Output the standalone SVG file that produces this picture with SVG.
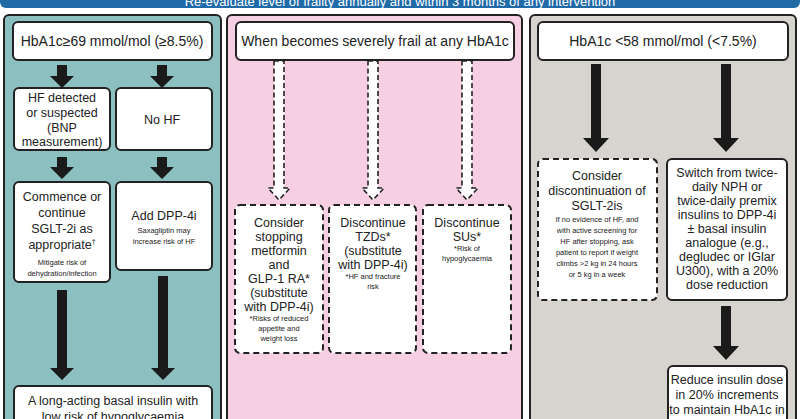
<svg xmlns="http://www.w3.org/2000/svg" width="800" height="419" viewBox="0 0 800 419">
<style>
text{font-family:"Liberation Sans",Arial,sans-serif;fill:#222;text-anchor:middle}
.m{font-size:12.5px}.h{font-size:14px}.s{font-size:7.5px}
.box{fill:#fff;stroke:#222;stroke-width:2}
.dbox{fill:#fff;stroke:#222;stroke-width:2;stroke-dasharray:6,4}
.arr{fill:#1a1a1a}
.darr{fill:#fff;stroke:#222;stroke-width:1.6;stroke-dasharray:5,3}
</style>
<rect x="0" y="-20" width="800" height="28" rx="6" fill="#1f6aa7"/>
<text x="400" y="6" style="font-size:13px;fill:#fff">Re-evaluate level of frailty annually and within 3 months of any intervention</text>
<rect x="4" y="15" width="217" height="420" rx="5" fill="#8bbfc0" stroke="#222" stroke-width="2"/>
<rect x="227" y="15" width="295" height="420" rx="5" fill="#f7cfe3" stroke="#222" stroke-width="2"/>
<rect x="530" y="15" width="266" height="420" rx="5" fill="#d7d3cf" stroke="#222" stroke-width="2"/>
<g id="h1"><rect class="box" x="13" y="22" width="199" height="38" rx="5"/><text class="h" x="112" y="46">HbA1c≥69 mmol/mol (≥8.5%)</text></g>
<g id="h2"><rect class="box" x="236" y="22" width="278" height="38" rx="5"/><text class="h" x="375" y="46">When becomes severely frail at any HbA1c</text></g>
<g id="h3"><rect class="box" x="538" y="22" width="250" height="38" rx="5"/><text class="h" x="663" y="46">HbA1c &lt;58 mmol/mol (&lt;7.5%)</text></g>
<g id="hf"><rect class="box" x="14" y="88" width="96" height="62" rx="5"/><text class="m" x="62" y="102">HF detected</text><text class="m" x="62" y="117">or suspected</text><text class="m" x="62" y="132">(BNP</text><text class="m" x="62" y="146">measurement)</text></g>
<g id="nohf"><rect class="box" x="116" y="88" width="96" height="62" rx="5"/><text class="m" x="162" y="124">No HF</text></g>
<g id="sglt"><rect class="box" x="14" y="182" width="96" height="100" rx="5"/><text class="m" x="62" y="201">Commence or</text><text class="m" x="62" y="217">continue</text><text class="m" x="62" y="233">SGLT-2i as</text><text class="m" x="62" y="249">appropriate<tspan style="font-size:7px" dy="-5">†</tspan></text><text class="s" x="62" y="265">Mitigate risk of</text><text class="s" x="62" y="276">dehydration/infection</text></g>
<g id="dpp"><rect class="box" x="116" y="182" width="96" height="88" rx="5"/><text class="m" x="164" y="220">Add DPP-4i</text><text class="s" x="164" y="233">Saxagliptin may</text><text class="s" x="164" y="244">increase risk of HF</text></g>
<g id="basal"><rect class="box" x="14" y="386" width="198" height="50" rx="5"/><text class="m" x="113" y="405">A long-acting basal insulin with</text><text class="m" x="113" y="421">low risk of hypoglycaemia</text></g>
<g id="met"><rect class="dbox" x="235" y="205" width="88" height="148" rx="5"/><text class="m" x="279" y="227">Consider</text><text class="m" x="279" y="241">stopping</text><text class="m" x="279" y="255">metformin</text><text class="m" x="279" y="269">and</text><text class="m" x="279" y="283">GLP-1 RA*</text><text class="m" x="279" y="297">(substitute</text><text class="m" x="279" y="311">with DPP-4i)</text><text class="s" x="279" y="321">*Risks of reduced</text><text class="s" x="279" y="331">appetite and</text><text class="s" x="279" y="341">weight loss</text></g>
<g id="tzd"><rect class="dbox" x="329" y="205" width="87" height="148" rx="5"/><text class="m" x="373" y="227">Discontinue</text><text class="m" x="373" y="241">TZDs*</text><text class="m" x="373" y="255">(substitute</text><text class="m" x="373" y="269">with DPP-4i)</text><text class="s" x="373" y="279">*HF and fracture</text><text class="s" x="373" y="289">risk</text></g>
<g id="su"><rect class="dbox" x="423" y="205" width="88" height="148" rx="5"/><text class="m" x="467" y="227">Discontinue</text><text class="m" x="467" y="241">SUs*</text><text class="s" x="467" y="251">*Risk of</text><text class="s" x="467" y="261">hypoglycaemia</text></g>
<g id="disc"><rect class="dbox" x="538" y="159" width="119" height="141" rx="5"/><text class="m" x="597" y="180">Consider</text><text class="m" x="597" y="195">discontinuation of</text><text class="m" x="597" y="210">SGLT-2is</text><text class="s" x="597" y="222">If no evidence of HF, and</text><text class="s" x="597" y="233">with active screening for</text><text class="s" x="597" y="244">HF after stopping, ask</text><text class="s" x="597" y="255">patient to report if weight</text><text class="s" x="597" y="266">climbs &gt;2 kg in 24 hours</text><text class="s" x="597" y="277">or 5 kg in a week</text></g>
<g id="switch"><rect class="box" x="667" y="159" width="120" height="141" rx="5"/><text class="m" x="727" y="177">Switch from twice-</text><text class="m" x="727" y="191">daily NPH or</text><text class="m" x="727" y="205">twice-daily premix</text><text class="m" x="727" y="219">insulins to  DPP-4i</text><text class="m" x="727" y="233">± basal insulin</text><text class="m" x="727" y="247">analogue (e.g.,</text><text class="m" x="727" y="261">degludec or IGlar</text><text class="m" x="727" y="275">U300), with a 20%</text><text class="m" x="727" y="289">dose reduction</text></g>
<g id="reduce"><rect class="box" x="668" y="366" width="119" height="70" rx="5"/><text class="m" x="727" y="384">Reduce insulin dose</text><text class="m" x="727" y="399">in 20% increments</text><text class="m" x="727" y="414">to maintain HbA1c in</text></g>
<g id="connectors">
<polygon class="arr" points="57,65 67,65 67,76 74,76 62,88 50,76 57,76"/>
<polygon class="arr" points="157,65 167,65 167,76 174,76 162,88 150,76 157,76"/>
<polygon class="arr" points="57,157 67,157 67,167 74,167 62,179 50,167 57,167"/>
<polygon class="arr" points="157,157 167,157 167,167 174,167 162,179 150,167 157,167"/>
<polygon class="arr" points="57,290 67,290 67,368 74,368 62,380 50,368 57,368"/>
<polygon class="arr" points="158,276 168,276 168,368 175,368 163,380 151,368 158,368"/>
<polygon class="darr" points="274,61 284,61 284,188 290,188 279,200 268,188 274,188"/>
<polygon class="darr" points="368,61 378,61 378,188 384,188 373,200 362,188 368,188"/>
<polygon class="darr" points="462,61 472,61 472,188 478,188 467,200 456,188 462,188"/>
<polygon class="arr" points="591,64 601,64 601,138 609,138 596,152 583,138 591,138"/>
<polygon class="arr" points="721,64 731,64 731,138 739,138 726,152 713,138 721,138"/>
<polygon class="arr" points="721,306 731,306 731,346 739,346 726,360 713,346 721,346"/>
</g>
</svg>
